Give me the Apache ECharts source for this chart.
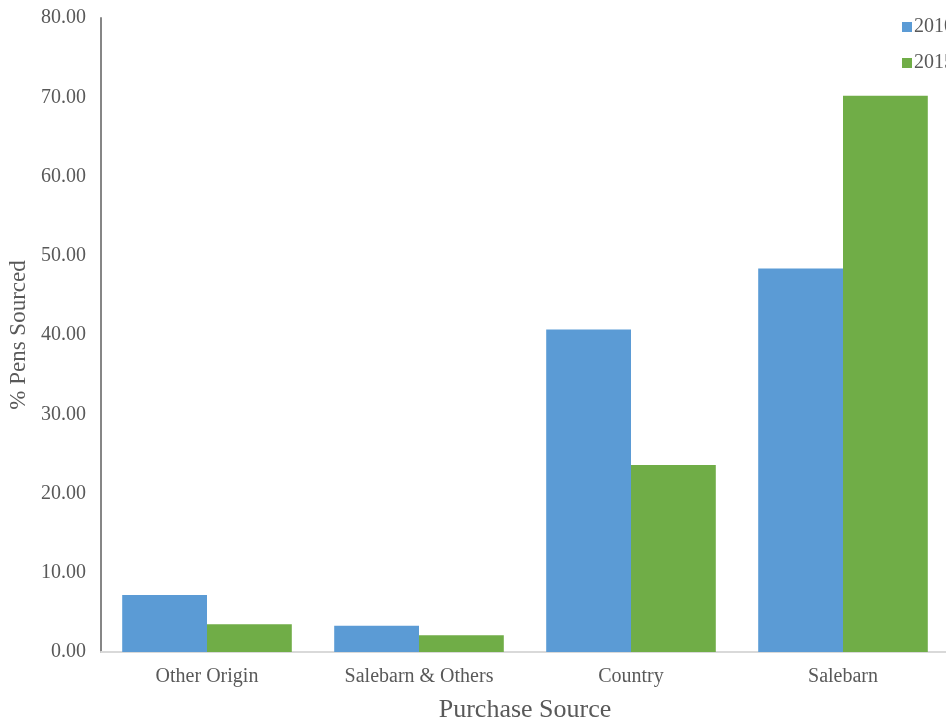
<!DOCTYPE html>
<html>
<head>
<meta charset="utf-8">
<script src="https://cdn.jsdelivr.net/npm/echarts@6/dist/echarts.min.js"></script>
<style>
html,body{margin:0;padding:0;background:#fff;}
#chart{width:946px;height:721px;}
</style>
</head>
<body>
<div id="chart"></div>
<script>
// Share of pens sourced by purchase source, two survey years
const categories = ['Other Origin', 'Salebarn & Others', 'Country', 'Salebarn'];
const seriesNames = ['2010', '2015'];
const values2010 = [7.2, 3.3, 40.7, 48.4];
const values2015 = [3.5, 2.1, 23.6, 70.2];
const yTicks = { min: 0, max: 80, interval: 10 };

const serif = 'Liberation Serif, Times New Roman, serif';
const chart = echarts.init(document.getElementById('chart'));
chart.setOption({
  animation: false,
  backgroundColor: '#ffffff',
  grid: { left: 101, top: 18, width: 848, bottom: 69, containLabel: false, outerBoundsMode: 'none' },
  legend: {
    orient: 'vertical',
    left: 897, top: 12,
    itemWidth: 10, itemHeight: 10, itemGap: 16,
    icon: 'rect',
    textStyle: { fontFamily: serif, fontSize: 20, color: '#595959', padding: [0, 0, 0, -3] },
    data: seriesNames
  },
  xAxis: {
    type: 'category',
    data: categories,
    name: 'Purchase Source',
    nameLocation: 'middle',
    nameGap: 45,
    nameTextStyle: { fontFamily: serif, fontSize: 26, color: '#595959' },
    axisLine: { lineStyle: { color: '#d9d9d9', width: 2 } },
    axisTick: { show: false },
    axisLabel: { fontFamily: serif, fontSize: 20, color: '#595959', margin: 15 }
  },
  yAxis: {
    type: 'value',
    min: yTicks.min, max: yTicks.max, interval: yTicks.interval,
    name: '% Pens Sourced',
    nameLocation: 'middle',
    nameGap: 71,
    nameTextStyle: { fontFamily: serif, fontSize: 23, color: '#595959' },
    axisLine: { show: true, lineStyle: { color: '#868686', width: 2 } },
    axisTick: { show: false },
    splitLine: { show: false },
    axisLabel: {
      fontFamily: serif, fontSize: 20, color: '#595959', margin: 15,
      formatter: v => v.toFixed(2)
    }
  },
  series: [
    {
      name: seriesNames[0], type: 'bar', data: values2010,
      barGap: '0%', barCategoryGap: '20%',
      itemStyle: { color: '#5b9bd5' }
    },
    {
      name: seriesNames[1], type: 'bar', data: values2015,
      barGap: '0%', barCategoryGap: '20%',
      itemStyle: { color: '#70ad47' }
    }
  ]
});
</script>
</body>
</html>
